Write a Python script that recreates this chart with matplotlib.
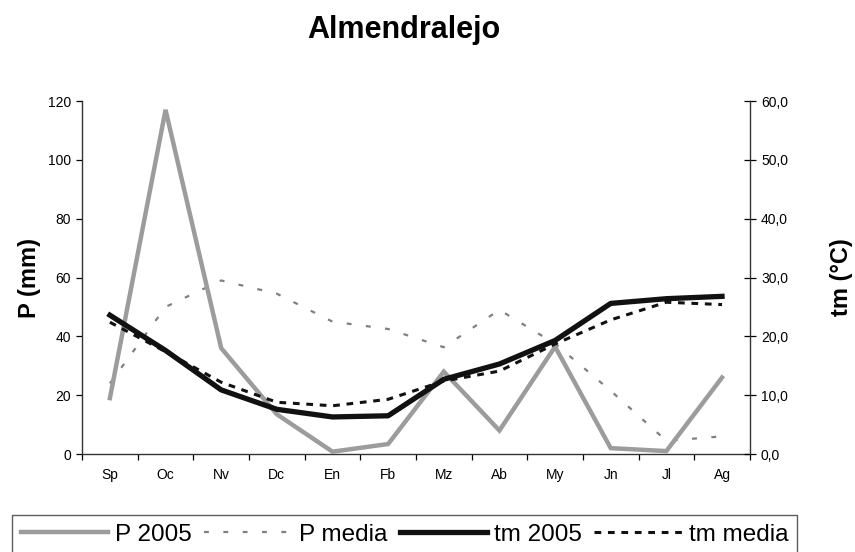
import numpy as np
import matplotlib
matplotlib.use('Agg')
import matplotlib.pyplot as plt

plt.rcParams['font.family'] = ['Liberation Sans', 'DejaVu Sans']

# Datos
meses = ['Sp', 'Oc', 'Nv', 'Dc', 'En', 'Fb', 'Mz', 'Ab', 'My', 'Jn', 'Jl', 'Ag']
p_2005 = [19, 117, 36, 13.5, 0.8, 3.4, 28, 8, 36.5, 2, 1, 26]
p_media = [24, 50, 59, 54.5, 45, 42.5, 36.3, 49, 37.5, 21.5, 4.5, 6]
tm_2005 = [23.6, 17.6, 10.9, 7.6, 6.3, 6.5, 12.7, 15.3, 19.3, 25.6, 26.4, 26.8]
tm_media = [22.4, 17.4, 12.2, 8.8, 8.2, 9.3, 12.4, 14.1, 18.7, 22.8, 25.8, 25.4]

x = np.arange(len(meses))

fig = plt.figure(figsize=(8.55, 5.52), dpi=100)
ax = fig.add_axes([0.096, 0.1775, 0.781, 0.6395])
ax2 = ax.twinx()

l1, = ax.plot(x, p_2005, color='#9c9c9c', lw=3.2, solid_joinstyle='miter', zorder=3)
l2, = ax.plot(x, p_media, color='#808080', lw=1.6, linestyle=(0, (2.2, 6.5)), zorder=2)
l3, = ax2.plot(x, tm_2005, color='#111111', lw=3.8, zorder=4)
l4, = ax2.plot(x, tm_media, color='#111111', lw=2.2, linestyle=(0, (2.2, 2.2)), zorder=3)

ax.set_xlim(-0.5, 11.5)
ax.set_ylim(0, 120)
ax2.set_ylim(0, 60)
ax.set_yticks(range(0, 121, 20))
ax2.set_yticks(range(0, 61, 10))
ax2.set_yticklabels([f'{v:.1f}'.replace('.', ',') for v in range(0, 61, 10)])

ax.set_xticks(x)
ax.set_xticklabels(meses)
ax.set_xticks(np.arange(-0.5, 12, 1), minor=True)
ax.tick_params(axis='x', which='major', length=0, pad=10, labelsize=10)
ax.tick_params(axis='x', which='minor', length=4, width=0.9, direction='out')
ax.tick_params(axis='y', length=4, width=0.9, direction='out', labelsize=10, pad=4)
ax2.tick_params(axis='y', length=8, width=0.9, direction='inout', labelsize=10, pad=4)

for a in (ax, ax2):
    a.spines['top'].set_visible(False)
    for s in ('left', 'right', 'bottom'):
        a.spines[s].set_linewidth(1.0)
        a.spines[s].set_color('#333333')
ax.spines['right'].set_visible(False)
ax2.spines['left'].set_visible(False)
ax2.spines['bottom'].set_visible(False)

ax.set_ylabel('P (mm)', fontsize=17, fontweight='bold', labelpad=5)
ax2.set_ylabel('tm (°C)', fontsize=17, fontweight='bold', labelpad=30)

fig.text(0.4725, 0.945, 'Almendralejo', ha='center', va='center',
         fontsize=22, fontweight='bold')

leg = fig.legend([l1, l2, l3, l4], ['P 2005', 'P media', 'tm 2005', 'tm media'],
                 loc='upper left', bbox_to_anchor=(12 / 855, 1 - 515 / 552),
                 ncol=4, fontsize=17.5, frameon=True, fancybox=False,
                 handlelength=3.6, handletextpad=0.3, columnspacing=0.5,
                 borderpad=0.35, borderaxespad=0)
leg.get_frame().set_edgecolor('#333333')
leg.get_frame().set_linewidth(1.0)

fig.savefig('out.png', dpi=100)
